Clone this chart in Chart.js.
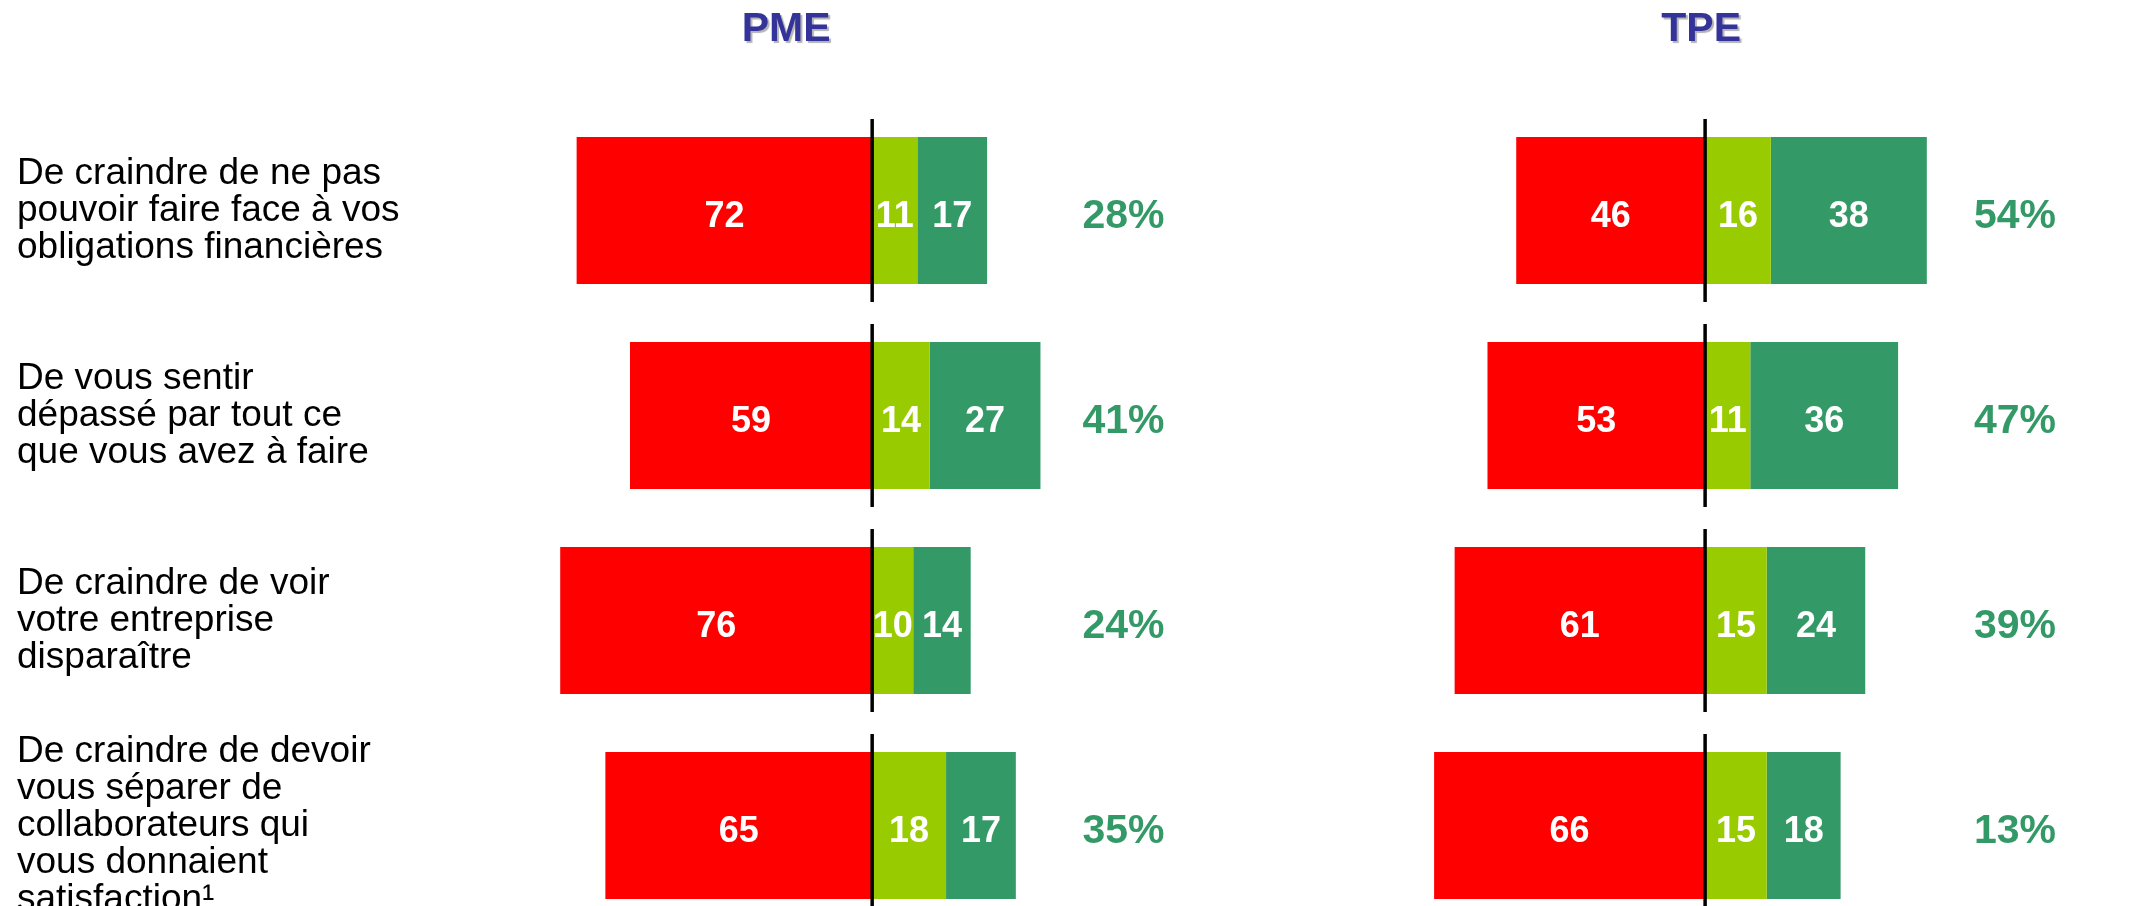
<!DOCTYPE html>
<html lang="fr">
<head>
  <meta charset="UTF-8">
  <title>PME / TPE</title>
  <style>
    html, body {
      margin: 0;
      padding: 0;
      background: #fff;
      width: 2143px;
      height: 906px;
      overflow: hidden;
    }
    canvas {
      position: absolute;
      top: 0;
    }
    #pmeChart { left: 0; }
    #tpeChart { left: 1200px; }
  </style>
  <script src="https://cdn.jsdelivr.net/npm/chart.js"></script>
</head>
<body>
  <canvas id="pmeChart" width="1200" height="928"></canvas>
  <canvas id="tpeChart" width="943" height="928"></canvas>

  <script>
    const categories = [
      ['De craindre de ne pas', 'pouvoir faire face à vos', 'obligations financières'],
      ['De vous sentir', 'dépassé par tout ce', 'que vous avez à faire'],
      ['De craindre de voir', 'votre entreprise', 'disparaître'],
      ['De craindre de devoir', 'vous séparer de', 'collaborateurs qui', 'vous donnaient', 'satisfaction¹']
    ];

    // PME
    const pmeRed = [72, 59, 76, 65];
    const pmeLime = [11, 14, 10, 18];
    const pmeGreen = [17, 27, 14, 17];
    const pmeTotals = [28, 41, 24, 35];

    // TPE
    const tpeRed = [46, 53, 61, 66];
    const tpeLime = [16, 11, 15, 15];
    const tpeGreen = [38, 36, 24, 18];
    const tpeTotals = [54, 47, 39, 13];

    const RED = '#ff0000';
    const LIME = '#99cc00';
    const GREEN = '#339966';
    const FONT = '"Liberation Sans", Arial, Helvetica, sans-serif';

    // zero line per row, values inside bars, totals at the right, panel header
    function rowDecor(title, totals, opts) {
      return {
        id: 'rowDecor',
        afterDatasetsDraw(chart) {
          const ctx = chart.ctx;
          const area = chart.chartArea;
          const x0 = chart.scales.x.getPixelForValue(0);
          const bars = chart.getDatasetMeta(0).data;
          ctx.save();

          ctx.strokeStyle = '#000';
          ctx.lineWidth = 3.5;
          bars.forEach(bar => {
            ctx.beginPath();
            ctx.moveTo(x0, bar.y - bar.height / 2 - 18);
            ctx.lineTo(x0, bar.y + bar.height / 2 + 18);
            ctx.stroke();
          });

          ctx.textAlign = 'center';
          ctx.textBaseline = 'alphabetic';
          ctx.font = 'bold 36px ' + FONT;
          ctx.fillStyle = '#fff';
          chart.data.datasets.forEach((ds, i) => {
            chart.getDatasetMeta(i).data.forEach((bar, j) => {
              ctx.fillText(Math.abs(ds.data[j]), (bar.x + bar.base) / 2, bar.y + 16);
            });
          });

          ctx.font = 'bold 41px ' + FONT;
          ctx.fillStyle = GREEN;
          bars.forEach((bar, j) => {
            ctx.fillText(totals[j] + '%', area.right + opts.totalsGap, bar.y + 17);
          });

          ctx.fillStyle = '#333399';
          ctx.shadowColor = 'rgba(0, 0, 0, 0.3)';
          ctx.shadowOffsetX = 2;
          ctx.shadowOffsetY = 2;
          ctx.shadowBlur = 1;
          ctx.fillText(title, x0 + opts.titleShift, 41);
          ctx.restore();
        }
      };
    }

    function makeChart(id, title, red, lime, green, totals, opts) {
      return new Chart(document.getElementById(id), {
        type: 'bar',
        data: {
          labels: categories,
          datasets: [
            { label: 'Rouge', data: red.map(v => -v), backgroundColor: RED },
            { label: 'Neutre', data: lime, backgroundColor: LIME },
            { label: 'Vert', data: green, backgroundColor: GREEN }
          ]
        },
        options: {
          indexAxis: 'y',
          responsive: false,
          animation: false,
          events: [],
          datasets: {
            bar: { barPercentage: 0.717, categoryPercentage: 1, borderWidth: 0 }
          },
          layout: { padding: opts.padding },
          plugins: {
            legend: { display: false },
            tooltip: { enabled: false }
          },
          scales: {
            x: { stacked: true, min: opts.min, max: opts.max, display: false },
            y: {
              stacked: true,
              display: opts.showLabels,
              grid: { display: false },
              border: { display: false },
              ticks: {
                autoSkip: false,
                crossAlign: 'far',
                color: '#000',
                font: { family: FONT, size: 37, lineHeight: 1.0 }
              },
              afterFit(scale) {
                scale.width = opts.axisWidth;
                scale.paddingTop = 0;
                scale.paddingBottom = 0;
              }
            }
          }
        },
        plugins: [rowDecor(title, totals, opts)]
      });
    }

    // PME: chart area 552..1159.5, zero near x=872
    makeChart('pmeChart', 'PME', pmeRed, pmeLime, pmeGreen, pmeTotals, {
      padding: { left: 17, top: 108, right: 40.5, bottom: 0 },
      min: -78, max: 70, showLabels: true, axisWidth: 535,
      totalsGap: -36, titleShift: -86
    });

    // TPE: chart area 1430..1972, zero near x=1705
    makeChart('tpeChart', 'TPE', tpeRed, tpeLime, tpeGreen, tpeTotals, {
      padding: { left: 230, top: 108, right: 171, bottom: 0 },
      min: -67, max: 65, showLabels: false, axisWidth: 0,
      totalsGap: 43, titleShift: -4
    });
  </script>
</body>
</html>
